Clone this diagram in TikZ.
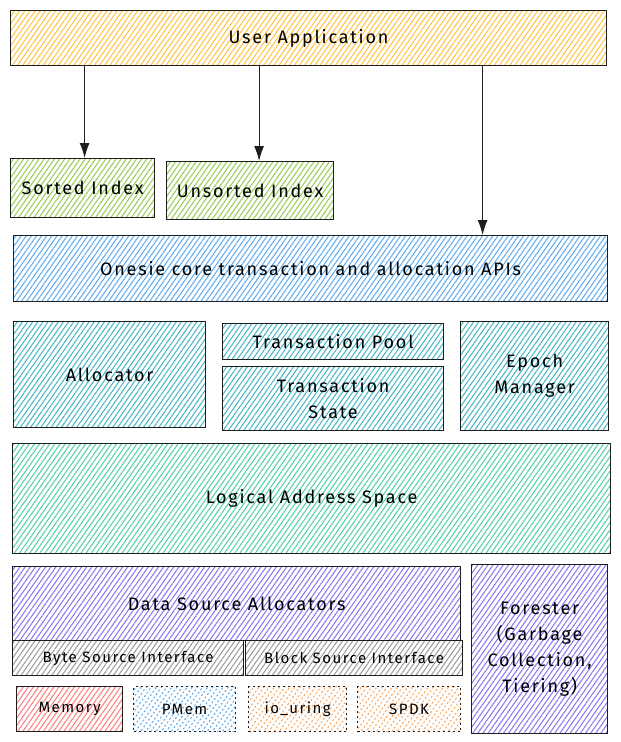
\documentclass[tikz,border=0pt]{standalone}
\usepackage{fontspec}
\setmainfont{Fira Sans}[LetterSpace=10]
\usetikzlibrary{patterns.meta,arrows.meta,calc}
\definecolor{cOrange}{HTML}{FFC23A}
\definecolor{cGreen}{HTML}{94CC4E}
\definecolor{cBlue}{HTML}{5AAAEE}
\definecolor{cTeal}{HTML}{3FB5C6}
\definecolor{cMint}{HTML}{4CCFA6}
\definecolor{cPurple}{HTML}{8873EE}
\definecolor{cGray}{HTML}{999999}
\definecolor{cRed}{HTML}{FF7A7A}
\definecolor{cPeach}{HTML}{FFA358}
\definecolor{cInk}{HTML}{1E1E1E}
\tikzset{
  hbox/.style={draw=cInk, line width=1.2pt, anchor=north west, inner sep=2pt,
    align=center, font=\fontsize{18}{26}\selectfont,
    pattern={Lines[angle=55,distance=4.2pt,line width=1pt]}, pattern color=#1},
  dotbox/.style={hbox=#1, dash pattern=on 2pt off 3pt, font=\fontsize{15}{19}\selectfont},
  sbox/.style={hbox=#1, font=\fontsize{15}{19}\selectfont},
  arr/.style={draw=cInk, line width=1.1pt, -{Latex[length=15pt,width=10pt]}},
}
\newcommand{\bx}[7][hbox]{\node[#1=#2, minimum width=#5pt, minimum height=#6pt] (#3) at (#4) {#7};}
\begin{document}
\begin{tikzpicture}[x=1pt,y=-1pt]
\useasboundingbox (0,0) rectangle (621,742);
\bx{cOrange}{ua}{10,10}{596}{55}{User Application}
\bx{cGreen}{si}{10,158}{144}{59}{Sorted Index}
\bx{cGreen}{us}{166,161}{167}{58}{Unsorted Index}
\bx{cBlue}{core}{13,235}{594}{66}{Onesie core transaction and allocation APIs}
\bx{cTeal}{alloc}{13,321}{192}{106}{Allocator}
\bx{cTeal}{tp}{222,323}{221}{36}{Transaction Pool}
\bx{cTeal}{ts}{222,366}{221}{64}{Transaction\\State}
\bx{cTeal}{em}{460,321}{148}{109}{Epoch\\Manager}
\bx{cMint}{las}{12,443}{598}{110}{Logical Address Space}
\bx{cPurple}{dsa}{12,566}{448}{74}{Data Source Allocators}
\bx{cPurple}{fo}{471,564}{136}{169}{Forester\\(Garbage\\Collection,\\Tiering)}
\bx[sbox]{cGray}{bsi}{12,640}{231}{35}{Byte Source Interface}
\bx[sbox]{cGray}{bli}{245,640}{217}{35}{Block Source Interface}
\bx[sbox]{cRed}{mem}{16,686}{106}{45}{Memory}
\bx[dotbox]{cBlue}{pm}{133,686}{102}{45}{PMem}
\bx[dotbox]{cPeach}{io}{248,686}{98}{45}{io\_uring}
\bx[dotbox]{cPeach}{sp}{357,686}{103}{45}{SPDK}
\draw[arr] ([xshift=2pt]si.north |- ua.south) -- ([xshift=2pt]si.north);
\draw[arr] ([xshift=9pt]us.north |- ua.south) -- ([xshift=9pt]us.north);
\draw[arr] ([xshift=172pt]core.north |- ua.south) -- ([xshift=172pt]core.north);
\end{tikzpicture}
\end{document}
